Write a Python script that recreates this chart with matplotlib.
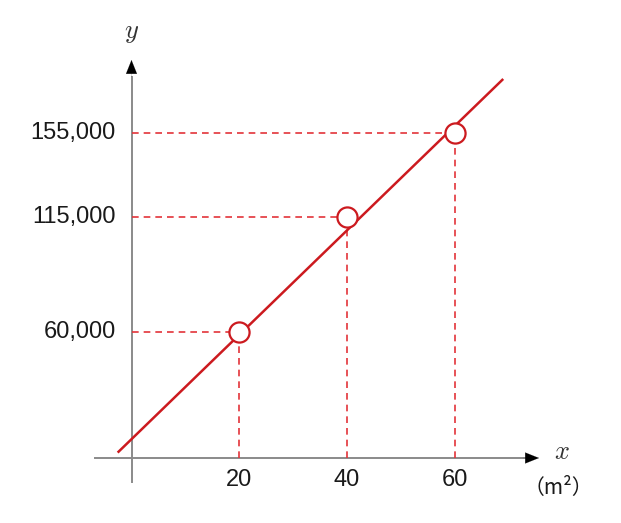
import matplotlib
matplotlib.use("Agg")
import matplotlib.pyplot as plt

plt.rcParams['font.family'] = ['Liberation Sans', 'DejaVu Sans']
plt.rcParams['mathtext.fontset'] = 'cm'

# data
area = [20, 40, 60]
price = [60000, 115000, 155000]
x_ticks = [20, 40, 60]
y_ticks = [60000, 115000, 155000]
y_tick_labels = ["60,000", "115,000", "155,000"]
line_x = [-2.4, 68.8]
line_y = [3000, 180500]

W, H = 621, 523
fig = plt.figure(figsize=(W / 100, H / 100), dpi=100)
ax = fig.add_axes([0, 0, 1, 1])

x0p, xs = 131.5, 5.39
y0p, ys = 458.0, 2.095 / 1000
ax.set_xlim(-x0p / xs, (W - x0p) / xs)
ax.set_ylim((y0p - H) / ys, y0p / ys)
ax.axis('off')

axis_col = '#8a8a8a'
dash_col = '#e3343a'
line_col = '#cc1a1f'

# axes with arrows
xa0, xa1 = (95 - x0p) / xs, (539 - x0p) / xs
ya0, ya1 = (y0p - 482) / ys, (y0p - 60) / ys
ax.plot([xa0, xa1 - 2], [0, 0], color=axis_col, lw=1.4, zorder=1)
ax.plot([0, 0], [ya0, ya1 - 8000], color=axis_col, lw=1.4, zorder=1)
ap = dict(arrowstyle='-|>,head_length=0.7,head_width=0.28',
          color='black', lw=0.1, shrinkA=0, shrinkB=0, mutation_scale=14)
ax.annotate('', xy=(xa1, 0), xytext=(xa1 - 3, 0), arrowprops=ap)
ax.annotate('', xy=(0, ya1), xytext=(0, ya1 - 8000), arrowprops=ap)

# guide dashes
for xv, yv in zip(area, price):
    ax.plot([0, xv], [yv, yv], color=dash_col, lw=1.2, ls=(0, (4, 3)), zorder=2)
    ax.plot([xv, xv], [0, yv], color=dash_col, lw=1.2, ls=(0, (4, 3)), zorder=2)

# main line
ax.plot(line_x, line_y, color=line_col, lw=1.8, zorder=3)

# points
ax.plot(area, price, 'o', ms=14.5, mfc='white', mec=line_col, mew=1.6, zorder=4)

# tick labels
for xv in x_ticks:
    ax.text(xv, (y0p - 480) / ys, str(xv), ha='center', va='center',
            fontsize=17, color='#1a1a1a')
for yv, lab in zip(y_ticks, y_tick_labels):
    ax.text((116 - x0p) / xs, yv, lab, ha='right', va='center',
            fontsize=17, color='#1a1a1a')

# axis labels
ax.text(0, (y0p - 33) / ys, '$y$', ha='center', va='center', fontsize=19,
        color='#333333')
ax.text((562 - x0p) / xs, (y0p - 452) / ys, '$x$', ha='center', va='center',
        fontsize=19, color='#333333')
ax.text((558 - x0p) / xs, (y0p - 488) / ys, '（m²）', ha='center', va='center',
        fontsize=15, color='#1a1a1a',
        family=['Noto Sans CJK JP', 'DejaVu Sans'])

fig.savefig('out.png', dpi=100)
